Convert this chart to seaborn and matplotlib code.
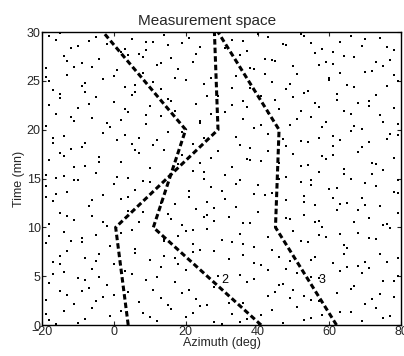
import matplotlib
matplotlib.use("Agg")
import matplotlib.pyplot as plt
import seaborn as sns
import pandas as pd

# ---- data ----
track_time = [0, 10, 20, 30]
track1_az = [4, 0.5, 29, 28]
track2_az = [41, 11, 20, -3]
track3_az = [62, 45, 46, 29]
track_labels = ["2", "3"]
label_az = [31, 58]
label_time = [4.6, 4.6]

clutter_x = [
    -18,-12,-7,-2,5,9,14,19,24,33,37,43,48,52,58,63,69,74,78,-15,2,11,40,55,66,
    -19,-14,-9,-4,1,7,12,16,22,35,39,45,50,56,61,67,72,77,-11,4,18,42,59,75,
    -17,-13,-8,-3,3,8,13,20,25,34,38,44,51,54,60,65,70,76,79,-19,6,17,48,63,
    -18,-15,-10,-5,0,6,10,15,23,26,36,41,46,53,57,62,68,73,78,-8,3,33,50,71,
    -19,-16,-11,-6,-1,4,9,13,17,24,36,39,43,49,55,59,64,69,74,79,2,27,52,67,
    -17,-14,-9,-3,1,7,11,15,22,34,38,43,52,57,61,66,71,76,-12,5,25,48,63,79,
    -18,-15,-8,-4,2,6,10,19,24,29,33,37,41,50,54,58,64,68,73,78,-11,14,46,61,
    -19,-14,-10,-5,0,4,8,22,27,31,35,40,48,52,57,62,66,70,75,79,-16,25,55,72,
    -17,-13,-7,-3,2,6,17,21,26,30,34,39,48,53,56,60,65,69,74,78,-19,28,44,63,
    -18,-15,-11,-6,-2,4,7,15,19,23,28,32,36,40,49,53,58,62,67,71,76,79,25,56,
    -19,-14,-9,-5,-1,5,14,18,22,26,30,35,39,50,54,59,64,68,73,77,-12,20,33,57,
    -17,-13,-8,-4,0,6,10,14,18,22,32,36,41,44,49,56,61,65,70,74,79,-15,28,68,
    -18,-14,-10,-6,-2,5,9,13,17,35,39,43,47,51,55,63,67,71,75,79,-4,20,46,65,
    -19,-15,-11,-7,-3,0,7,11,15,19,23,28,32,45,49,53,57,66,70,74,78,-9,26,50,
    -18,-14,-10,-6,-1,8,12,16,20,24,28,33,37,44,47,51,55,58,66,69,73,77,-16,30,
]
clutter_t = [
    29.6,28.4,29.1,28.8,29.3,28.2,29.7,28.9,28.5,29.2,28.1,29.5,28.7,29.8,28.3,29.0,28.6,29.4,28.2,29.9,28.0,29.0,29.8,28.9,29.6,
    26.3,27.5,26.8,27.2,26.1,27.8,26.6,27.3,26.9,27.6,26.2,27.0,26.5,27.9,26.7,27.4,26.0,27.1,26.4,27.7,26.2,27.2,26.9,26.5,
    24.1,25.6,24.8,25.2,24.4,25.8,24.2,25.1,24.7,25.5,24.3,24.9,25.7,24.0,25.3,24.6,25.9,24.5,25.0,25.4,24.6,25.3,24.2,25.8,
    22.5,23.7,22.2,23.3,22.8,23.9,22.4,23.1,22.6,23.5,22.9,23.4,22.1,23.8,22.3,23.0,22.7,23.6,22.2,23.9,22.1,22.5,23.3,22.9,
    20.4,21.6,20.9,21.2,20.3,21.8,20.6,21.4,21.9,20.7,21.1,20.2,21.7,20.5,21.3,20.8,21.9,20.1,21.5,20.6,21.0,21.6,21.9,20.4,
    18.6,19.4,18.2,19.7,18.9,19.1,18.4,19.8,18.5,19.3,18.1,19.6,18.8,19.2,18.3,19.9,18.7,19.0,18.0,18.5,19.1,18.3,18.9,19.5,
    16.9,17.6,16.3,17.2,16.7,17.9,16.1,17.4,16.6,17.8,16.2,17.0,16.8,17.5,16.4,17.3,16.0,17.7,16.5,17.1,16.2,17.9,16.6,17.4,
    14.2,15.3,14.8,15.6,14.4,15.1,14.7,15.8,14.1,15.4,14.9,14.3,15.2,14.6,15.7,14.0,15.0,14.5,15.9,14.8,15.1,15.0,14.3,15.5,
    12.7,13.6,12.2,13.3,12.9,13.8,12.4,13.1,12.6,13.7,12.1,13.4,12.8,13.2,12.3,13.9,12.5,13.0,12.2,13.6,13.1,12.0,13.5,12.4,
    10.3,11.5,10.8,11.2,10.1,11.7,10.6,11.4,10.2,11.9,10.7,11.1,10.4,11.6,10.9,11.3,10.0,11.8,10.5,11.0,10.3,11.5,11.1,10.6,
    8.4,9.5,8.9,9.2,8.1,9.7,8.6,9.1,8.3,9.8,8.7,9.3,8.0,9.6,8.5,9.0,8.2,9.4,8.8,9.9,8.6,9.6,8.5,9.2,
    6.5,7.6,6.9,7.3,6.2,7.8,6.7,7.1,6.3,7.5,6.8,7.2,6.1,7.7,6.6,7.0,6.4,7.9,6.5,7.3,6.9,6.2,7.6,6.0,
    4.3,5.4,4.8,5.7,4.1,5.2,4.6,5.9,4.4,5.1,4.7,5.6,4.2,5.3,4.9,5.5,4.0,5.8,4.5,5.0,4.9,5.6,4.1,5.9,
    2.6,3.5,2.2,3.8,2.9,3.1,2.4,3.6,2.1,3.3,2.7,3.9,2.3,3.4,2.8,3.0,2.5,3.7,2.2,3.2,2.9,3.5,2.0,3.6,
    0.5,1.4,0.2,1.7,0.9,1.2,0.4,1.6,0.8,1.9,0.3,1.1,0.6,1.5,0.2,1.8,0.7,1.0,1.3,0.4,1.7,0.9,0.1,0.15,
]
clutter2_x = [
    -16,-10,-5,3,9,15,21,31,36,47,53,61,70,76,
    -13,-6,8,13,23,38,44,57,64,73,
    -18,-9,0,11,27,33,42,49,60,67,78,
    -15,-7,5,16,29,37,45,56,62,71,
    -12,-2,9,24,31,41,51,58,66,75,
    -17,-8,3,12,19,35,47,54,61,69,77,
    -14,-4,7,18,27,38,43,52,59,72,
    -19,-11,1,10,25,34,46,55,64,73,
    -16,-6,4,13,21,31,42,53,61,70,79,
    -13,-3,8,16,26,38,48,57,68,75,
    -18,-9,2,14,22,36,43,52,63,71,
    -15,-5,6,17,24,39,46,55,64,76,
    -17,-8,3,12,29,37,48,57,69,78,
    -13,-5,4,13,21,36,43,55,62,72,
    -19,-8,2,10,22,35,41,53,63,75,
]
clutter2_t = [
    29.2,28.6,29.5,28.3,29.0,28.7,29.4,28.4,29.1,28.8,29.6,28.0,29.3,28.5,
    27.0,26.4,27.4,26.8,27.8,26.3,27.1,26.6,27.5,26.9,
    25.0,24.5,25.5,24.9,25.3,24.3,25.7,24.7,25.1,24.4,25.6,
    23.2,22.6,23.6,22.9,23.4,22.3,23.0,22.7,23.7,22.4,
    21.3,20.7,21.5,20.9,21.8,20.5,21.1,20.3,21.6,20.8,
    19.2,18.6,19.5,18.9,19.8,18.4,19.0,18.7,19.4,18.2,19.6,
    17.3,16.7,17.6,16.5,17.1,16.9,17.8,16.3,17.0,16.6,
    15.4,14.8,15.2,14.6,15.7,14.4,15.0,14.9,15.5,14.2,
    13.4,12.8,13.1,12.5,13.7,12.9,13.3,12.6,13.0,12.3,13.5,
    11.2,10.6,11.6,10.9,11.3,10.4,11.0,10.7,11.8,10.2,
    9.1,8.5,9.4,8.8,9.7,8.3,9.0,8.6,9.3,8.9,
    7.1,6.6,7.4,6.9,7.7,6.4,7.0,6.7,7.3,6.5,
    5.2,4.6,5.5,4.9,5.0,4.4,5.7,4.8,5.3,4.5,
    3.1,2.5,3.4,2.8,3.6,2.3,3.0,2.6,3.3,2.7,
    1.1,0.6,1.4,0.8,1.2,0.3,1.0,0.5,1.3,0.7,
]
x_ticks = [-20, 0, 20, 40, 60, 80]
y_ticks = [0, 5, 10, 15, 20, 25, 30]

# ---- plot ----
sns.set_style("ticks")
plt.rcParams["font.family"] = ["Liberation Sans", "DejaVu Sans"]

fig = plt.figure(figsize=(4.04, 3.56), dpi=100)
ax = fig.add_axes([0.104, 0.087, 0.889, 0.823])

clutter = pd.DataFrame({"az": clutter_x + clutter2_x, "t": clutter_t + clutter2_t})
sns.scatterplot(data=clutter, x="az", y="t", ax=ax, marker="s", s=4.5,
                color="black", linewidth=0)

for az in (track1_az, track2_az, track3_az):
    df = pd.DataFrame({"az": az, "t": track_time})
    sns.lineplot(data=df, x="az", y="t", ax=ax, sort=False, estimator=None,
                 color="black", linewidth=2.2, linestyle=(0, (1.8, 1.0)))

for lab, xa, ta in zip(track_labels, label_az, label_time):
    ax.text(xa, ta, lab, fontsize=9, color="black", ha="center", va="center")

ax.set_xlim(-20, 80)
ax.set_ylim(0, 30)
ax.set_xticks(x_ticks)
ax.set_yticks(y_ticks)
ax.tick_params(direction="in", length=3, width=0.8, labelsize=9, pad=1,
               top=True, right=True)
for sp in ax.spines.values():
    sp.set_linewidth(1.0)
    sp.set_color("black")
ax.set_title("Measurement space", fontsize=11, pad=5, x=0.46)
ax.set_xlabel("Azimuth (deg)", fontsize=9, labelpad=-1)
ax.set_ylabel("Time (mn)", fontsize=9, labelpad=1)

fig.savefig("out.png", dpi=100)
